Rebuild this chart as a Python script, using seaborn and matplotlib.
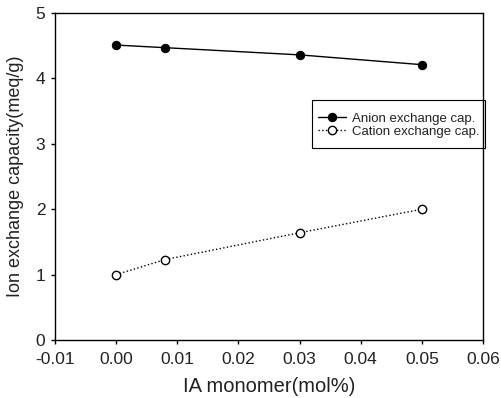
import matplotlib
matplotlib.use("Agg")
import matplotlib.pyplot as plt
from matplotlib.patches import Rectangle
import seaborn as sns
import pandas as pd

# Ion exchange capacity versus IA monomer content
ia_monomer = [0.0, 0.008, 0.03, 0.05]
anion_cap = [4.51, 4.47, 4.36, 4.21]
cation_cap = [1.0, 1.23, 1.64, 2.0]
x_ticks = [-0.01, 0.00, 0.01, 0.02, 0.03, 0.04, 0.05, 0.06]
y_ticks = [0, 1, 2, 3, 4, 5]

df = pd.DataFrame({"x": ia_monomer, "anion": anion_cap, "cation": cation_cap})

sns.set_theme(style="ticks")
plt.rcParams["font.family"] = ["Liberation Sans", "DejaVu Sans"]

fig = plt.figure(figsize=(5.02, 3.98), dpi=100)
ax = fig.add_axes([0.1096, 0.1457, 0.8526, 0.8216])

sns.lineplot(data=df, x="x", y="anion", ax=ax, color="black", lw=1.0,
             marker="o", markersize=6, markerfacecolor="black",
             markeredgecolor="black", label="Anion exchange cap.")
sns.lineplot(data=df, x="x", y="cation", ax=ax, color="black", lw=1.0,
             linestyle=":", marker="o", markersize=6, markerfacecolor="white",
             markeredgecolor="black", markeredgewidth=1.0,
             label="Cation exchange cap.")

ax.set_xlim(-0.01, 0.06)
ax.set_ylim(0, 5)
ax.set_xticks(x_ticks)
ax.set_xticklabels([f"{v:.2f}" for v in x_ticks])
ax.set_yticks(y_ticks)
ax.set_yticklabels([str(v) for v in y_ticks])
ax.tick_params(axis="both", direction="out", length=3, width=1, colors="black",
               labelsize=12.5, labelcolor="#222222")
ax.tick_params(axis="x", pad=5.5)
ax.tick_params(axis="y", pad=4)
for s in ax.spines.values():
    s.set_visible(True)
    s.set_color("black")
    s.set_linewidth(1.0)

ax.set_xlabel("IA monomer(mol%)", fontsize=14.5, color="#222222", labelpad=7)
ax.set_ylabel("Ion exchange capacity(meq/g)", fontsize=13, color="#222222", labelpad=8)

# legend entries without their own frame; a separate box sits around them
leg = ax.legend(loc="center", bbox_to_anchor=(0.803, 0.657), fontsize=9.5,
                frameon=False, handlelength=2.1, handletextpad=0.5,
                borderpad=0.0, labelspacing=0.1)
for t in leg.get_texts():
    t.set_color("#222222")
ax.add_patch(Rectangle((0.600, 0.587), 0.405, 0.147, transform=ax.transAxes,
                       fill=False, edgecolor="black", lw=0.8, clip_on=False))

fig.savefig("out.png", dpi=100)
